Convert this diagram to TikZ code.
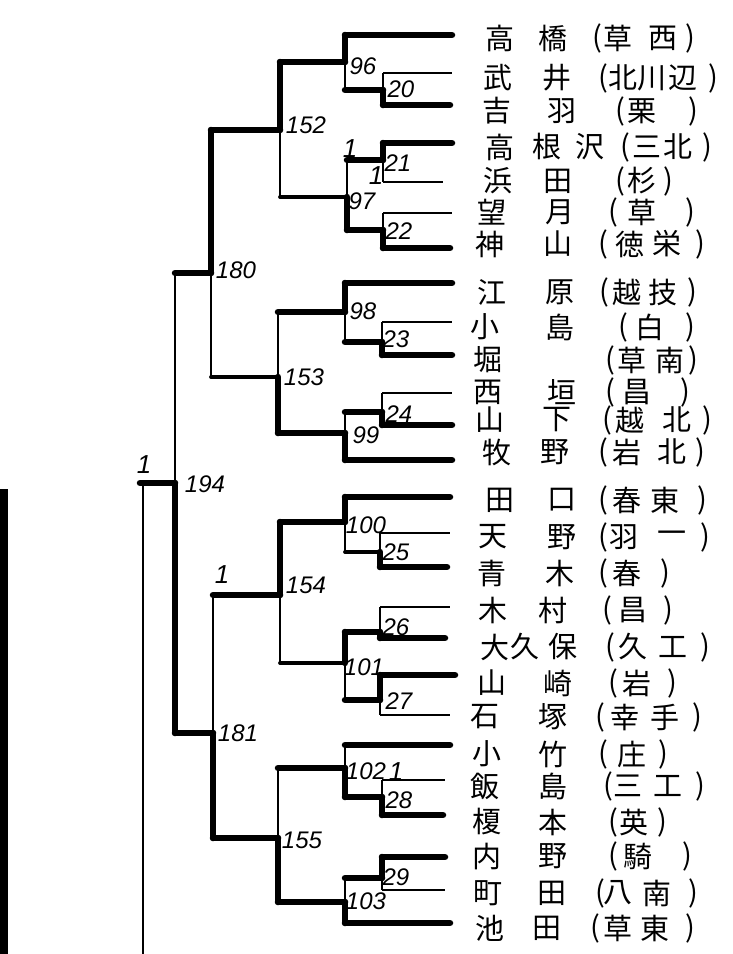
\documentclass[tikz,border=0pt]{standalone}
\usepackage{fontspec}
\newfontfamily\cjkf{Noto Sans CJK JP}
\newfontfamily\handf{Liberation Sans}
\tikzset{
 thk/.style={line width=6.5pt,line cap=round,line join=round},
 med/.style={line width=3.8pt,line cap=round},
 thn/.style={line width=1.3pt},
 nm/.style={font=\cjkf\fontsize{29}{29}\selectfont,inner sep=0pt},
 lbl/.style={font=\handf\itshape\fontsize{24}{24}\selectfont,inner sep=0pt},
 one/.style={font=\handf\itshape\fontsize{26}{26}\selectfont,inner sep=0pt},
}
\newcommand\mtch[6]{%
 \coordinate (#1-t) at (#2,#3);
 \coordinate (#1-b) at (#2,#4);
 \coordinate (#1) at (#2,#5);
 \if t#6\draw[thk] (#1-t) -- (#1);\draw[thn] (#1) -- (#1-b);%
 \else\draw[thn] (#1-t) -- (#1);\draw[thk] (#1) -- (#1-b);\fi}
\newcommand\rowline[5]{\coordinate (s#1) at (#2,#3);\coordinate (e#1) at (#4,#3);\draw[#5] (s#1) -- (e#1);}
\newcommand\names[2]{\foreach \c/\xx [count=\k] in {#2}{\node[nm] (n#1-\k) at (\xx,#1) {\c};}}
\begin{document}
\begin{tikzpicture}[x=1pt,y=-1pt]
\useasboundingbox (0,0) rectangle (732,954);
\fill[white] (0,0) rectangle (732,954);
% rows
\rowline{1}{345}{35}{452}{thk}
\rowline{2}{383}{73}{452}{thn}
\rowline{3}{383}{105}{450}{thk}
\rowline{4}{383}{143}{452}{thk}
\rowline{5}{383}{182}{443}{thn}
\rowline{6}{383}{213}{452}{thn}
\rowline{7}{383}{248}{450}{thk}
\rowline{8}{345}{283}{452}{thk}
\rowline{9}{382}{322}{452}{thn}
\rowline{10}{382}{355}{452}{thk}
\rowline{11}{382}{393}{452}{thn}
\rowline{12}{382}{425}{452}{thk}
\rowline{13}{345}{460}{452}{thk}
\rowline{14}{345}{497}{450}{thk}
\rowline{15}{380}{533}{450}{thn}
\rowline{16}{380}{567}{447}{thk}
\rowline{17}{380}{607}{450}{thn}
\rowline{18}{380}{638}{445}{thk}
\rowline{19}{380}{675}{455}{thk}
\rowline{20}{380}{715}{450}{thn}
\rowline{21}{345}{745}{450}{thk}
\rowline{22}{382}{780}{445}{thn}
\rowline{23}{382}{815}{443}{thk}
\rowline{24}{382}{857}{445}{thk}
\rowline{25}{382}{890}{445}{thn}
\rowline{26}{345}{923}{450}{thk}
% matches
\mtch{m20}{383}{73}{105}{90}{b}
\mtch{m21}{383}{143}{182}{160}{t}
\mtch{m22}{383}{213}{248}{230}{b}
\mtch{m23}{382}{322}{355}{342}{b}
\mtch{m24}{382}{393}{425}{412}{b}
\mtch{m25}{380}{533}{567}{552}{b}
\mtch{m26}{380}{607}{638}{632}{b}
\mtch{m27}{380}{675}{715}{700}{t}
\mtch{m28}{382}{780}{815}{797}{b}
\mtch{m29}{382}{857}{890}{878}{t}
\mtch{m96}{345}{35}{90}{62}{t}
\mtch{m97}{347}{160}{230}{197}{b}
\mtch{m98}{345}{283}{342}{312}{t}
\mtch{m99}{345}{412}{460}{433}{b}
\mtch{m100}{345}{497}{552}{522}{t}
\mtch{m101}{345}{632}{700}{663}{t}
\mtch{m102}{345}{745}{797}{768}{b}
\mtch{m103}{345}{878}{923}{902}{b}
\mtch{m152}{280}{62}{197}{130}{t}
\mtch{m153}{278}{312}{433}{377}{b}
\mtch{m154}{280}{522}{663}{595}{t}
\mtch{m155}{278}{768}{902}{838}{b}
\mtch{m180}{211}{130}{377}{273}{t}
\mtch{m181}{213}{595}{838}{733}{b}
\mtch{m194}{175}{273}{733}{483}{b}
% outputs
\draw[thk] (m20) -- (m96-b);
\draw[thk] (m21) -- (m97-t);
\draw[thk] (m22) -- (m97-b);
\draw[thk] (m23) -- (m98-b);
\draw[thk] (m24) -- (m99-t);
\draw[med] (m25) -- (m100-b);
\draw[thk] (m26) -- (m101-t);
\draw[thk] (m27) -- (m101-b);
\draw[thk] (m28) -- (m102-b);
\draw[thk] (m29) -- (m103-t);
\draw[thk] (m96) -- (m152-t);
\draw[med] (m97) -- (m152-b);
\draw[thk] (m98) -- (m153-t);
\draw[thk] (m99) -- (m153-b);
\draw[thk] (m100) -- (m154-t);
\draw[med] (m101) -- (m154-b);
\draw[thk] (m102) -- (m155-t);
\draw[thk] (m103) -- (m155-b);
\draw[thk] (m152) -- (m180-t);
\draw[med] (m153) -- (m180-b);
\draw[thk] (m154) -- (m181-t);
\draw[thk] (m155) -- (m181-b);
\draw[thk] (m180) -- (m194-t);
\draw[thk] (m181) -- (m194-b);
\coordinate (fin) at (140,483);
\draw[thk] (m194) -- (fin);
\coordinate (fint) at (143,483);
\coordinate (finb) at (143,960);
\draw[thn] (fint) -- (finb);
\coordinate (lt) at (4,489);
\coordinate (lb) at (4,960);
\draw[line width=8pt] (lt) -- (lb);
% labels
\node[lbl] (l96) at (363,66) {96};
\node[lbl] (l20) at (401,89) {20};
\node[lbl] (l152) at (306,125) {152};
\node[one] (o1) at (350,149) {1};
\node[lbl] (l21) at (398,163) {21};
\node[one] (o2) at (376,176) {1};
\node[lbl] (l97) at (362,201) {97};
\node[lbl] (l22) at (399,231) {22};
\node[lbl] (l180) at (236,270) {180};
\node[lbl] (l98) at (363,311) {98};
\node[lbl] (l23) at (396,339) {23};
\node[lbl] (l153) at (304,377) {153};
\node[lbl] (l24) at (399,414) {24};
\node[lbl] (l99) at (366,435) {99};
\node[one] (o3) at (144,465) {1};
\node[lbl] (l194) at (205,484) {194};
\node[one] (o4) at (222,575) {1};
\node[lbl] (l100) at (366,525) {100};
\node[lbl] (l25) at (396,552) {25};
\node[lbl] (l154) at (306,585) {154};
\node[lbl] (l26) at (396,627) {26};
\node[lbl] (l101) at (364,667) {101};
\node[lbl] (l27) at (399,701) {27};
\node[lbl] (l181) at (238,733) {181};
\node[lbl] (l102) at (366,771) {102};
\node[one] (o5) at (396,772) {1};
\node[lbl] (l28) at (399,800) {28};
\node[lbl] (l155) at (302,840) {155};
\node[lbl] (l29) at (396,877) {29};
\node[lbl] (l103) at (366,901) {103};
% names
\names{38}{高/500,橋/553,{(}/597,草/618,西/663,{)}/690}
\names{78}{武/498,井/557,{(}/603,北/623,川/652,辺/683,{)}/713}
\names{111}{吉/497,羽/562,{(}/620,栗/642,{)}/693}
\names{147}{高/500,根/547,沢/590,{(}/625,三/647,北/678,{)}/707}
\names{181}{浜/498,田/558,{(}/620,杉/642,{)}/668}
\names{212}{望/492,月/560,{(}/613,草/642,{)}/690}
\names{244}{神/490,山/558,{(}/603,徳/630,栄/667,{)}/700}
\names{292}{江/492,原/560,{(}/604,越/627,技/663,{)}/692}
\names{327}{小/485,島/560,{(}/623,白/650,{)}/690}
\names{360}{堀/488,{(}/610,草/632,南/670,{)}/693}
\names{392}{西/488,垣/562,{(}/610,昌/637,{)}/685}
\names{420}{山/490,下/557,{(}/607,越/630,北/677,{)}/707}
\names{452}{牧/497,野/555,{(}/603,岩/627,北/672,{)}/700}
\names{500}{田/500,口/562,{(}/603,春/627,東/665,{)}/702}
\names{537}{天/493,野/562,{(}/603,羽/624,一/672,{)}/705}
\names{573}{青/492,木/560,{(}/603,春/627,{)}/665}
\names{610}{木/493,村/553,{(}/607,昌/633,{)}/668}
\names{647}{大/495,久/525,保/563,{(}/610,久/633,工/673,{)}/705}
\names{683}{山/492,崎/558,{(}/613,岩/637,{)}/672}
\names{717}{石/485,塚/553,{(}/600,幸/625,手/665,{)}/697}
\names{754}{小/487,竹/553,{(}/603,庄/632,{)}/663}
\names{786}{飯/485,島/553,{(}/608,三/628,工/668,{)}/700}
\names{822}{榎/487,本/553,{(}/613,英/634,{)}/662}
\names{856}{内/487,野/553,{(}/613,騎/638,{)}/687}
\names{893}{町/488,田/552,{(}/600,八/618,南/657,{)}/693}
\names{928}{池/490,田/547,{(}/595,草/618,東/655,{)}/690}
\end{tikzpicture}
\end{document}
